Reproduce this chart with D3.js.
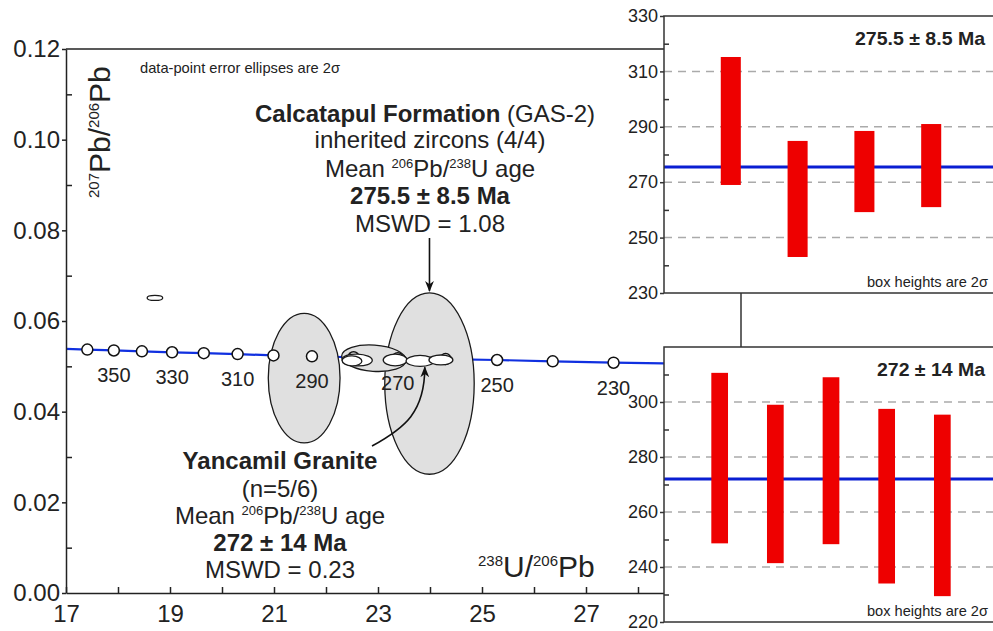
<!DOCTYPE html>
<html>
<head>
<meta charset="utf-8">
<script src="https://cdn.jsdelivr.net/npm/d3@7"></script>
<style>
  body { margin: 0; background: #fff; }
  svg { font-family: "Liberation Sans", Arial, sans-serif; }
</style>
</head>
<body>
<svg width="993" height="631"></svg>
<script>
// concordia reference points: age (Ma), 238U/206Pb, 207Pb/206Pb
const concAges = [370, 360, 350, 340, 330, 320, 310, 300, 290, 280, 270, 260, 250, 240, 230, 220, 210];
const concU = [16.93, 17.41, 17.92, 18.46, 19.04, 19.65, 20.30, 20.99, 21.73, 22.53, 23.38, 24.30, 25.29, 26.36, 27.53, 28.80, 30.17];
const concPb = [0.0539, 0.0537, 0.0535, 0.0533, 0.0531, 0.0529, 0.0527, 0.0524, 0.0522, 0.0520, 0.0518, 0.0516, 0.0514, 0.0511, 0.0508, 0.0506, 0.0504];
const concLabels = [350, 330, 310, 290, 270, 250, 230];

// data-point error ellipses (2 sigma)
const ellU = [18.71, 21.58, 23.99, 22.92, 22.60, 22.50, 23.33, 23.81, 24.21];
const ellPb = [0.0651, 0.0474, 0.0462, 0.0518, 0.0514, 0.0512, 0.0514, 0.0512, 0.0514];
const ellErrU = [0.15, 0.69, 0.86, 0.62, 0.29, 0.19, 0.23, 0.27, 0.23];
const ellErrPb = [0.00055, 0.0143, 0.0200, 0.0029, 0.0013, 0.0011, 0.0013, 0.0012, 0.0011];
const ellTilt = [0, 0, 0, 4, 2, 2, 0, 0, 0];
const ellGroup = ["granite", "inherited", "inherited", "inherited", "granite", "granite", "granite", "granite", "granite"];

// axis ticks
const xMajor = [17, 19, 21, 23, 25, 27];
const xMinor = [18, 20, 22, 24, 26, 28];
const yMajor = [0, 0.02, 0.04, 0.06, 0.08, 0.10, 0.12];
const yMinor = [0.01, 0.03, 0.05, 0.07, 0.09, 0.11];

// weighted mean insets (206Pb/238U ages, 2 sigma boxes)
const calcLow = [269, 243, 259.2, 261];
const calcHigh = [315.2, 284.9, 288.5, 291];
const calcMean = 275.5;
const yancLow = [248.6, 241.4, 248.3, 234, 229.4];
const yancHigh = [310.6, 299, 309, 297.5, 295.4];
const yancMean = 272;

var svg = d3.select("svg");

var x = d3.scaleLinear().domain([17, 29]).range([66, 690]);
var y = d3.scaleLinear().domain([0, 0.12]).range([593, 49]);

var defs = svg.append("defs");
defs.append("clipPath").attr("id", "plotClip")
  .append("rect").attr("x", 66).attr("y", 49).attr("width", 624).attr("height", 544);
defs.append("marker")
  .attr("id", "arrow")
  .attr("viewBox", "0 0 10 10")
  .attr("refX", 9).attr("refY", 5)
  .attr("markerWidth", 11).attr("markerHeight", 11)
  .attr("markerUnits", "userSpaceOnUse")
  .attr("orient", "auto")
  .append("path").attr("d", "M0,1 L10,5 L0,9 L3,5 Z").attr("fill", "#111");

// ---- main Tera-Wasserburg plot ----
var plot = svg.append("g").attr("clip-path", "url(#plotClip)");

var conc = concAges.map((a, i) => ({ age: a, u: concU[i], pb: concPb[i] }));

plot.append("path")
  .datum(conc)
  .attr("fill", "none")
  .attr("stroke", "#1030e0")
  .attr("stroke-width", 2.2)
  .attr("d", d3.line().x(d => x(d.u)).y(d => y(d.pb)));

var ells = ellU.map((u, i) => ({
  u: u, pb: ellPb[i], eu: ellErrU[i], epb: ellErrPb[i], tilt: ellTilt[i], group: ellGroup[i]
}));

function drawEllipses(group) {
  plot.selectAll(null)
    .data(ells.filter(d => d.group === group))
    .enter()
    .append("ellipse")
    .attr("cx", d => x(d.u))
    .attr("cy", d => y(d.pb))
    .attr("rx", d => x(d.u + d.eu) - x(d.u))
    .attr("ry", d => y(d.pb - d.epb) - y(d.pb))
    .attr("transform", d => `rotate(${d.tilt},${x(d.u)},${y(d.pb)})`)
    .attr("fill", group === "inherited" ? "#e0e0e0" : "#fff")
    .attr("stroke", "#1a1a1a")
    .attr("stroke-width", 1.3);
}

drawEllipses("inherited");

// concordia age markers
plot.selectAll("circle")
  .data(conc.filter(d => d.age <= 360 && d.age >= 230))
  .enter()
  .append("circle")
  .attr("cx", d => x(d.u))
  .attr("cy", d => y(d.pb))
  .attr("r", 5.5)
  .attr("fill", "#fff")
  .attr("stroke", "#111")
  .attr("stroke-width", 1.5);

drawEllipses("granite");

// age labels
svg.selectAll(".ageLabel")
  .data(conc.filter(d => concLabels.includes(d.age)))
  .enter()
  .append("text")
  .attr("class", "ageLabel")
  .attr("x", d => x(d.u))
  .attr("y", d => y(d.pb) + 32)
  .attr("text-anchor", "middle")
  .attr("font-size", 20)
  .attr("fill", "#222")
  .text(d => d.age);

// axes
svg.append("g")
  .attr("transform", "translate(0,593)")
  .call(d3.axisBottom(x).tickValues(xMajor).tickSize(-6).tickSizeOuter(0).tickPadding(12).tickFormat(d3.format("d")));
svg.append("g")
  .attr("transform", "translate(0,593)")
  .call(d3.axisBottom(x).tickValues(xMinor).tickSize(-6).tickSizeOuter(0).tickFormat(""))
  .select(".domain").remove();

svg.append("g")
  .attr("transform", "translate(66,0)")
  .call(d3.axisLeft(y).tickValues(yMajor).tickSize(4).tickSizeOuter(0).tickPadding(2).tickFormat(d3.format(".2f")));
svg.append("g")
  .attr("transform", "translate(66,0)")
  .call(d3.axisLeft(y).tickValues(yMinor).tickSize(-6).tickSizeOuter(0).tickFormat(""))
  .select(".domain").remove();

svg.selectAll(".tick text").attr("font-size", 24).attr("fill", "#222").attr("font-family", null);
svg.selectAll(".domain, .tick line").attr("stroke", "#222").attr("stroke-width", 1.5);

// top frame line
svg.append("line")
  .attr("x1", 66).attr("x2", 700).attr("y1", 49).attr("y2", 49)
  .attr("stroke", "#222").attr("stroke-width", 1.5);

// axis titles
var yTitle = svg.append("text")
  .attr("transform", "translate(110,198) rotate(-90)")
  .attr("fill", "#222");
yTitle.append("tspan").attr("font-size", 15).attr("dy", -11).text("207");
yTitle.append("tspan").attr("font-size", 30).attr("dy", 11).text("Pb/");
yTitle.append("tspan").attr("font-size", 15).attr("dy", -11).text("206");
yTitle.append("tspan").attr("font-size", 30).attr("dy", 11).text("Pb");

var xTitle = svg.append("text")
  .attr("x", 478).attr("y", 577)
  .attr("fill", "#222");
xTitle.append("tspan").attr("font-size", 15).attr("dy", -11).text("238");
xTitle.append("tspan").attr("font-size", 30).attr("dy", 11).text("U/");
xTitle.append("tspan").attr("font-size", 15).attr("dy", -11).text("206");
xTitle.append("tspan").attr("font-size", 30).attr("dy", 11).text("Pb");

svg.append("text")
  .attr("x", 140).attr("y", 73)
  .attr("font-size", 15)
  .attr("fill", "#222")
  .attr("textLength", 200)
  .attr("lengthAdjust", "spacingAndGlyphs")
  .text("data-point error ellipses are 2σ");

// annotation blocks
function meanLine(g, cx, yy) {
  var t = g.append("text").attr("x", cx).attr("y", yy).attr("text-anchor", "middle").attr("font-size", 24).attr("fill", "#222");
  t.append("tspan").text("Mean ");
  t.append("tspan").attr("font-size", 13).attr("dy", -9).text("206");
  t.append("tspan").attr("dy", 9).text("Pb/");
  t.append("tspan").attr("font-size", 13).attr("dy", -9).text("238");
  t.append("tspan").attr("dy", 9).text("U age");
}

var notes = svg.append("g");
var t1 = notes.append("text").attr("x", 255).attr("y", 122).attr("font-size", 24).attr("fill", "#222");
t1.append("tspan").attr("font-weight", "bold").text("Calcatapul Formation");
t1.append("tspan").text(" (GAS-2)");
notes.append("text").attr("x", 430).attr("y", 148).attr("text-anchor", "middle").attr("font-size", 24).attr("fill", "#222").text("inherited zircons (4/4)");
meanLine(notes, 430, 177);
notes.append("text").attr("x", 430).attr("y", 204).attr("text-anchor", "middle").attr("font-size", 24).attr("font-weight", "bold").attr("fill", "#222").text(`${calcMean} ± 8.5 Ma`);
notes.append("text").attr("x", 430).attr("y", 232).attr("text-anchor", "middle").attr("font-size", 24).attr("fill", "#222").text("MSWD = 1.08");

notes.append("text").attr("x", 280).attr("y", 469).attr("text-anchor", "middle").attr("font-size", 24).attr("font-weight", "bold").attr("fill", "#222").text("Yancamil Granite");
notes.append("text").attr("x", 280).attr("y", 497).attr("text-anchor", "middle").attr("font-size", 24).attr("fill", "#222").text("(n=5/6)");
meanLine(notes, 280, 524);
notes.append("text").attr("x", 280).attr("y", 551).attr("text-anchor", "middle").attr("font-size", 24).attr("font-weight", "bold").attr("fill", "#222").text(`${yancMean} ± 14 Ma`);
notes.append("text").attr("x", 280).attr("y", 578).attr("text-anchor", "middle").attr("font-size", 24).attr("fill", "#222").text("MSWD = 0.23");

// arrows
var bigTop = y(ellPb[2] + ellErrPb[2]);
notes.append("line")
  .attr("x1", x(ellU[2])).attr("x2", x(ellU[2]))
  .attr("y1", 238).attr("y2", bigTop - 2)
  .attr("stroke", "#111").attr("stroke-width", 1.6)
  .attr("marker-end", "url(#arrow)");
var tipX = x(23.9), tipY = y(ellPb[7] - ellErrPb[7]) + 1;
notes.append("path")
  .attr("d", `M372,446 C405,428 ${tipX},412 ${tipX},${tipY}`)
  .attr("fill", "none")
  .attr("stroke", "#111").attr("stroke-width", 1.6)
  .attr("marker-end", "url(#arrow)");

// ---- insets ----
function drawInset(o) {
  var g = svg.append("g");
  var xs = d3.scaleLinear().domain([0, o.low.length + 1]).range([664, 998]);
  var ys = d3.scaleLinear().domain(o.domain).range([o.bottom, o.top]);
  var step = xs(1) - xs(0);

  g.append("rect")
    .attr("x", 664).attr("y", o.top)
    .attr("width", 334).attr("height", o.bottom - o.top)
    .attr("fill", "#fff");

  g.selectAll(".grid")
    .data(o.grid)
    .enter()
    .append("line")
    .attr("x1", 664).attr("x2", 998)
    .attr("y1", d => ys(d)).attr("y2", d => ys(d))
    .attr("stroke", "#aaa").attr("stroke-width", 1.5)
    .attr("stroke-dasharray", "8,6");

  g.append("line")
    .attr("x1", 664).attr("x2", 998)
    .attr("y1", ys(o.mean)).attr("y2", ys(o.mean))
    .attr("stroke", "#0a1ed2").attr("stroke-width", 3);

  g.selectAll(".bar")
    .data(o.low)
    .enter()
    .append("rect")
    .attr("x", (d, i) => xs(i + 1) - step * 0.15)
    .attr("width", step * 0.3)
    .attr("y", (d, i) => ys(o.high[i]))
    .attr("height", (d, i) => ys(d) - ys(o.high[i]))
    .attr("fill", "#ee0000");

  g.append("rect")
    .attr("x", 664).attr("y", o.top)
    .attr("width", 334).attr("height", o.bottom - o.top)
    .attr("fill", "none")
    .attr("stroke", "#333").attr("stroke-width", 1.5);

  var ax = g.append("g")
    .attr("transform", "translate(664,0)")
    .call(d3.axisLeft(ys).tickValues(o.labels).tickSize(4).tickSizeOuter(0).tickPadding(2).tickFormat(d3.format("d")));
  ax.select(".domain").remove();
  var mn = g.append("g")
    .attr("transform", "translate(664,0)")
    .call(d3.axisLeft(ys).tickValues(o.minor).tickSize(-5).tickFormat(""));
  mn.select(".domain").remove();
  g.selectAll(".tick line").attr("stroke", "#333").attr("stroke-width", 1.5);
  ax.selectAll(".tick text").attr("font-size", 18).attr("fill", "#222").attr("font-family", null);

  g.append("text")
    .attr("x", o.titleX).attr("y", o.top + 29)
    .attr("font-size", 19).attr("font-weight", "bold").attr("fill", "#222")
    .attr("textLength", 985 - o.titleX)
    .attr("lengthAdjust", "spacingAndGlyphs")
    .text(o.title);
  g.append("text")
    .attr("x", 867).attr("y", o.bottom - 6)
    .attr("font-size", 15).attr("fill", "#222")
    .attr("textLength", 121)
    .attr("lengthAdjust", "spacingAndGlyphs")
    .text("box heights are 2σ");
}

// connector between insets
svg.append("line")
  .attr("x1", 741).attr("x2", 741).attr("y1", 293).attr("y2", 347)
  .attr("stroke", "#333").attr("stroke-width", 1.5);

drawInset({
  top: 16, bottom: 293, domain: [230, 330],
  low: calcLow, high: calcHigh, mean: calcMean,
  labels: [230, 250, 270, 290, 310, 330], minor: [240, 260, 280, 300, 320],
  grid: [250, 270, 290, 310],
  title: "275.5 ± 8.5 Ma", titleX: 855
});

drawInset({
  top: 347, bottom: 622, domain: [220, 320],
  low: yancLow, high: yancHigh, mean: yancMean,
  labels: [220, 240, 260, 280, 300], minor: [230, 250, 270, 290, 310],
  grid: [240, 260, 280, 300],
  title: "272 ± 14 Ma", titleX: 877
});
</script>
</body>
</html>
